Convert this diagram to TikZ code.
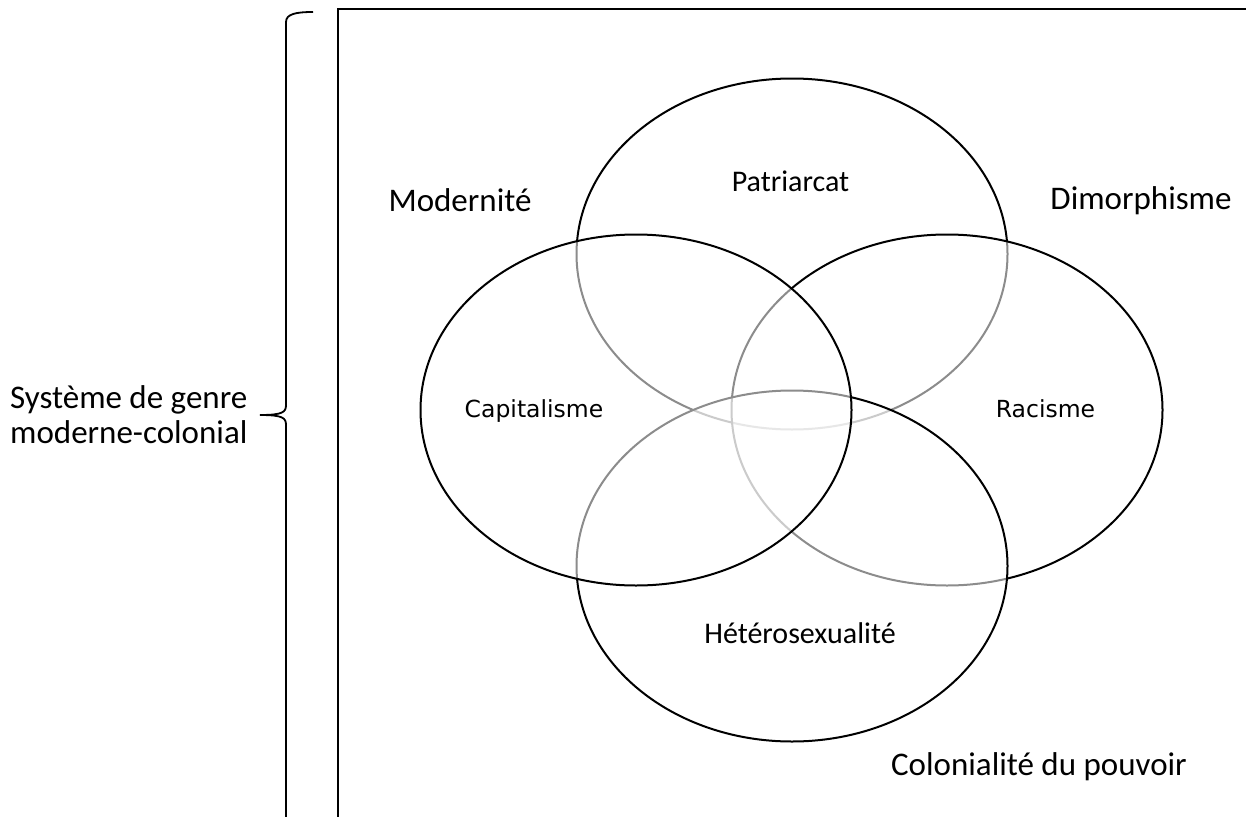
\documentclass[tikz,border=0pt]{standalone}
\usepackage{fontspec}
\setmainfont{Carlito}
\newfontfamily\dvs{DejaVu Sans}
\begin{document}
\begin{tikzpicture}[x=1pt,y=-1pt,
  ell/.style={draw=black,line width=2pt,fill=white,fill opacity=0.55,draw opacity=1},
  big/.style={font=\fontsize{33}{35}\selectfont,inner sep=0pt,anchor=base},
  mid/.style={font=\fontsize{30}{36}\selectfont,inner sep=0pt,anchor=base},
  small/.style={font=\dvs\fontsize{23.5}{28}\selectfont,inner sep=0pt,anchor=base},
  frame/.style={draw=black,line width=1.8pt}]
\useasboundingbox (0,0) rectangle (1246,816);
\begin{scope}
\clip (0,0) rectangle (1246,816);
\draw[frame] (338,9) rectangle (1260,830);
% brace
\coordinate (btop) at (313,12);
\coordinate (btip) at (260,415);
\coordinate (bbot) at (286,830);
\draw[line width=1.8pt] (btop) .. controls (296,12) and (286,14) .. (286,22)
  -- (286,405) .. controls (286,412) and (283,415) .. (btip)
  .. controls (283,415) and (286,418) .. (286,425) -- (bbot);
\end{scope}
\draw[ell] (792,254) ellipse [x radius=215.5pt, y radius=175.5pt];
\draw[ell] (947,410) ellipse [x radius=215.5pt, y radius=175.5pt];
\draw[ell] (792,566) ellipse [x radius=215.5pt, y radius=175.5pt];
\draw[ell] (636,410) ellipse [x radius=215.5pt, y radius=175.5pt];
\node[mid] (pat) at (790.5,191) {Patriarcat};
\node[small] (cap) at (534,417) {Capitalisme};
\node[small] (rac) at (1045.5,417) {Racisme};
\node[mid] (het) at (800,643) {Hétérosexualité};
\node[big] (mod) at (460,211) {Modernité};
\node[big] (dim) at (1141,209) {Dimorphisme};
\node[big] (col) at (1039,775) {Colonialité du pouvoir};
\node[inner sep=0pt,align=left,anchor=base west,font=\fontsize{33}{35}\selectfont] (sys) at (10,443) {Système de genre\\moderne-colonial};
\end{tikzpicture}
\end{document}
